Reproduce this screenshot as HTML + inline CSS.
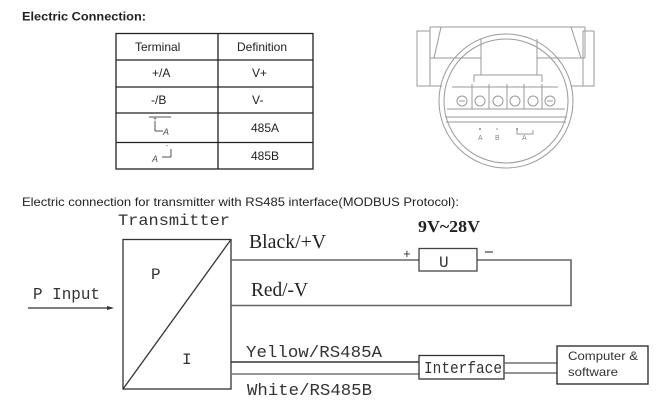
<!DOCTYPE html>
<html><head><meta charset="utf-8"><style>
html,body{margin:0;padding:0;background:#fff;}
svg{display:block;}
</style></head><body>
<svg width="672" height="417" viewBox="0 0 672 417" xmlns="http://www.w3.org/2000/svg">
<rect width="672" height="417" fill="#fff"/>
<!-- Title -->
<text x="22" y="20.5" font-family="Liberation Sans, sans-serif" font-size="12" font-weight="bold" fill="#222" textLength="124" lengthAdjust="spacingAndGlyphs">Electric Connection:</text>

<!-- Table -->
<g stroke="#222" stroke-width="1.3" fill="none">
<rect x="116" y="33.5" width="197" height="135.5"/>
<line x1="218" y1="33.5" x2="218" y2="169"/>
<line x1="116" y1="60" x2="313" y2="60"/>
<line x1="116" y1="87" x2="313" y2="87"/>
<line x1="116" y1="113" x2="313" y2="113"/>
<line x1="116" y1="142.5" x2="313" y2="142.5"/>
</g>
<g font-family="Liberation Sans, sans-serif" font-size="12" fill="#222">
<text x="135" y="51">Terminal</text>
<text x="237" y="51">Definition</text>
<text x="152" y="77">+/A</text>
<text x="252" y="77">V+</text>
<text x="151" y="104">-/B</text>
<text x="252" y="104">V-</text>
<text x="251" y="132">485A</text>
<text x="251" y="160">485B</text>
</g>
<!-- terminal icons -->
<g stroke="#555" stroke-width="1" fill="none">
<line x1="149" y1="117" x2="171" y2="117"/>
<line x1="155" y1="121" x2="155" y2="131"/>
<line x1="155" y1="131" x2="163" y2="131"/>
<line x1="162" y1="157" x2="171" y2="157"/>
<line x1="171" y1="157" x2="171" y2="149"/>
</g>
<g font-family="Liberation Sans, sans-serif" font-size="9" fill="#555">
<text x="153" y="121" font-size="7">+</text>
<text x="163" y="135" font-style="italic">A</text>
<text x="152" y="162" font-style="italic">A</text>
<text x="166" y="148" font-size="7">-</text>
</g>

<!-- Device drawing -->
<g stroke="#9a9a9a" stroke-width="1" fill="none">
<line x1="430" y1="27" x2="585" y2="27"/>
<rect x="417" y="31" width="13" height="55"/>
<rect x="583" y="31" width="11" height="55"/>
<line x1="430" y1="27" x2="430" y2="58"/>
<line x1="441" y1="27" x2="434" y2="58"/>
<line x1="585" y1="27" x2="585" y2="58"/>
<line x1="571" y1="27" x2="581" y2="58"/>
<line x1="430" y1="58" x2="481" y2="58"/>
<line x1="537" y1="58" x2="585" y2="58"/>
<line x1="430" y1="86" x2="442" y2="86"/>
<line x1="571" y1="86" x2="583" y2="86"/>
<circle cx="506" cy="101" r="67"/>
<circle cx="506" cy="101" r="62"/>
<line x1="481" y1="39" x2="481" y2="75"/>
<line x1="537" y1="39" x2="537" y2="75"/>
<polyline points="474,82 474,75 542,75 542,82"/>
<line x1="452" y1="87" x2="558" y2="87"/>
<line x1="447" y1="109" x2="565" y2="109"/>
<line x1="445" y1="117" x2="567" y2="117"/>
<line x1="446" y1="122" x2="566" y2="122"/>
<circle cx="462" cy="101" r="5"/>
<circle cx="480" cy="101" r="5"/>
<circle cx="498" cy="101" r="5"/>
<circle cx="515" cy="101" r="5"/>
<circle cx="533" cy="101" r="5"/>
<circle cx="550" cy="101" r="5"/>
<line x1="459" y1="101" x2="465" y2="101"/>
<line x1="547" y1="101" x2="553" y2="101"/>
<line x1="472" y1="84" x2="472" y2="109"/>
<line x1="489" y1="84" x2="489" y2="109"/>
<line x1="507" y1="84" x2="507" y2="109"/>
<line x1="524" y1="84" x2="524" y2="109"/>
<line x1="542" y1="84" x2="542" y2="109"/>
<polyline points="517,130 517,134 533,134 533,130"/>
</g>
<g fill="#888">
<circle cx="480" cy="129" r="1"/>
<circle cx="497" cy="129" r="0.8"/>
<circle cx="517" cy="129" r="1"/>
</g>
<g font-family="Liberation Sans, sans-serif" font-size="7" fill="#888">
<text x="478" y="140">A</text>
<text x="495" y="140">B</text>
<text x="522" y="140">A</text>
</g>

<!-- Second section -->
<text x="22" y="206" font-family="Liberation Sans, sans-serif" font-size="12" fill="#222" textLength="437" lengthAdjust="spacingAndGlyphs">Electric connection for transmitter with RS485 interface(MODBUS Protocol):</text>

<text x="118" y="225" font-family="Liberation Mono, monospace" font-size="16" fill="#333" textLength="112" lengthAdjust="spacingAndGlyphs">Transmitter</text>

<!-- transmitter box -->
<g stroke="#333" stroke-width="1.3" fill="none">
<rect x="123" y="239.5" width="108" height="149.5"/>
<line x1="123" y1="389" x2="231" y2="239.5"/>
</g>
<g font-family="Liberation Mono, monospace" fill="#333">
<text x="151" y="279" font-size="16">P</text>
<text x="182" y="364" font-size="16">I</text>
<text x="33" y="299" font-size="17" textLength="67" lengthAdjust="spacingAndGlyphs">P Input</text>
</g>
<line x1="28" y1="308" x2="112" y2="308" stroke="#333" stroke-width="1.3"/>
<polygon points="114,308 107,306 107,310" fill="#333"/>

<!-- power lines -->
<g stroke="#666" stroke-width="1.6" fill="none">
<line x1="231" y1="260" x2="419" y2="260"/>
<polyline points="477,260 571,260 571,305.5 231,305.5"/>
<rect x="419" y="248.5" width="58" height="22.5" stroke="#444" stroke-width="1.3"/>
</g>
<g font-family="Liberation Serif, serif" fill="#222">
<text x="249" y="248" font-size="20" textLength="77" lengthAdjust="spacingAndGlyphs">Black/+V</text>
<text x="251" y="296" font-size="20" textLength="57" lengthAdjust="spacingAndGlyphs">Red/-V</text>
<text x="418" y="232" font-size="17" font-weight="bold" textLength="62" lengthAdjust="spacingAndGlyphs">9V~28V</text>
</g>
<g font-family="Liberation Mono, monospace" fill="#333">
<text x="439" y="267" font-size="16">U</text>
<text x="403" y="258" font-size="13">+</text>
<line x1="485" y1="252" x2="493" y2="252" stroke="#444" stroke-width="1.2"/>
</g>

<!-- RS485 lines -->
<line x1="231" y1="362" x2="419" y2="362" stroke="#333" stroke-width="1.4"/>
<line x1="231" y1="374" x2="419" y2="374" stroke="#777" stroke-width="1.6"/>
<rect x="419" y="355.5" width="85" height="23.5" stroke="#333" stroke-width="1.3" fill="none"/>
<line x1="504" y1="363" x2="557" y2="363" stroke="#555" stroke-width="1.3"/>
<line x1="504" y1="373" x2="557" y2="373" stroke="#555" stroke-width="1.3"/>
<rect x="557" y="346" width="91" height="38" stroke="#333" stroke-width="1.4" fill="none"/>
<g font-family="Liberation Mono, monospace" fill="#333">
<text x="246" y="357" font-size="17" textLength="136" lengthAdjust="spacingAndGlyphs">Yellow/RS485A</text>
<text x="247" y="395" font-size="17" textLength="125" lengthAdjust="spacingAndGlyphs">White/RS485B</text>
<text x="424" y="373" font-size="17" textLength="78" lengthAdjust="spacingAndGlyphs">Interface</text>
</g>
<g font-family="Liberation Sans, sans-serif" font-size="12" fill="#333">
<text x="568" y="360" textLength="70" lengthAdjust="spacingAndGlyphs">Computer &amp;</text>
<text x="568" y="376" textLength="50" lengthAdjust="spacingAndGlyphs">software</text>
</g>
</svg>
</body></html>
